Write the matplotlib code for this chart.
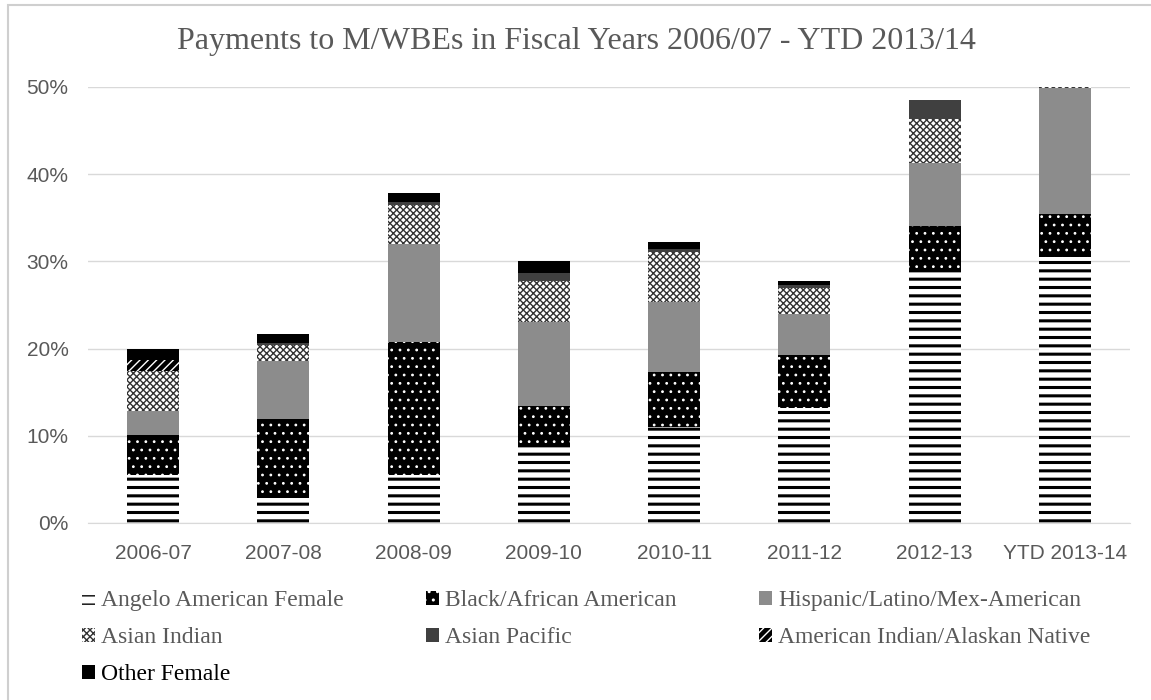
import numpy as np
import matplotlib
matplotlib.use("Agg")
import matplotlib.pyplot as plt
from matplotlib.patches import Rectangle

# fiscal years on the x axis
years = ["2006-07", "2007-08", "2008-09", "2009-10", "2010-11", "2011-12", "2012-13", "YTD 2013-14"]

# share of payments (%) per group
angelo_female = [5.5, 2.9, 5.5, 8.8, 11.0, 13.2, 29.0, 30.5]
black_african = [4.6, 9.0, 15.3, 4.6, 6.3, 6.1, 5.1, 4.9]
hispanic = [2.7, 6.7, 11.2, 9.6, 8.1, 4.7, 7.2, 14.5]
asian_indian = [4.6, 1.8, 4.5, 4.8, 5.7, 3.0, 5.0, 0.3]
asian_pacific = [0.0, 0.2, 0.3, 0.9, 0.3, 0.3, 2.2, 0.0]
american_indian = [1.3, 0.0, 0.0, 0.0, 0.0, 0.0, 0.0, 0.0]
other_female = [1.3, 1.1, 1.0, 1.3, 0.8, 0.5, 0.0, 0.0]

groups = [
    ("Angelo American Female", angelo_female, "white", "black", "--", 2.2),
    ("Black/African American", black_african, "black", "white", "..", 0.8),
    ("Hispanic/Latino/Mex-American", hispanic, "#8c8c8c", "#8c8c8c", None, 1.0),
    ("Asian Indian", asian_indian, "white", "#333333", "xxxxx", 1.0),
    ("Asian Pacific", asian_pacific, "#404040", "#404040", None, 1.0),
    ("American Indian/Alaskan Native", american_indian, "black", "white", "////", 1.0),
    ("Other Female", other_female, "black", "black", None, 1.0),
]

fig = plt.figure(figsize=(11.51, 7.0), dpi=100)
ax = fig.add_axes([88 / 1151, 1 - 523 / 700, (1130 - 88) / 1151, (523 - 87) / 700])

x = np.arange(len(years))
bottom = np.zeros(len(years))
handles = []
for name, vals, face, hcol, hatch, hlw in groups:
    vals = np.array(vals) / 100.0
    with plt.rc_context({"hatch.linewidth": hlw}):
        bars = ax.bar(x, vals, 0.4, bottom=bottom, color=face, edgecolor=hcol,
                      hatch=hatch, linewidth=0, label=name, zorder=3)
        for b in bars:
            if hasattr(b, "set_hatch_linewidth"):
                b.set_hatch_linewidth(hlw)
    handles.append(bars)
    bottom += vals

ax.set_xlim(-0.5, len(years) - 0.5)
ax.set_ylim(0, 0.5)
ax.set_yticks(np.arange(0, 0.51, 0.1))
ax.set_yticklabels(["%d%%" % (v * 100) for v in np.arange(0, 0.51, 0.1) + 1e-9])
ax.set_xticks(x)
ax.set_xticklabels(years)
ax.grid(axis="y", color="#d9d9d9", linewidth=1, zorder=0)
for s in ["top", "right", "left"]:
    ax.spines[s].set_visible(False)
ax.spines["bottom"].set_color("#d9d9d9")
ax.tick_params(length=0, labelsize=15, colors="#595959")
ax.tick_params(axis="x", pad=15)
ax.tick_params(axis="y", pad=14)
for lab in ax.get_xticklabels() + ax.get_yticklabels():
    lab.set_fontfamily("Liberation Sans")

fig.text(576 / 1151, 1 - 42 / 700, "Payments to M/WBEs in Fiscal Years 2006/07 - YTD 2013/14",
         ha="center", va="center", fontsize=23, color="#595959", family="Liberation Serif")

# legend fills column by column, so reorder to get the row layout of the reference
order = [0, 3, 6, 1, 4, 2, 5]
leg = fig.legend(handles=[handles[i] for i in order], loc="upper left",
                 bbox_to_anchor=(82 / 1151, 1 - 590 / 700),
                 ncol=3, frameon=False, prop={"family": "Liberation Serif", "size": 17},
                 handlelength=0.55, handleheight=0.55, handletextpad=0.25,
                 columnspacing=3.5, labelspacing=0.68, borderpad=0, borderaxespad=0)
for t in leg.get_texts():
    t.set_color("#595959")
    if t.get_text() == "Other Female":
        t.set_color("black")

# the frame of the original is only visible on the left and top
fig.patches.append(Rectangle((8 / 1151, -0.1), 1.2, 1.1 - 5 / 700, transform=fig.transFigure,
                             fill=False, edgecolor="#cfcfcf", linewidth=1.5))

fig.savefig("out.png", dpi=100)
